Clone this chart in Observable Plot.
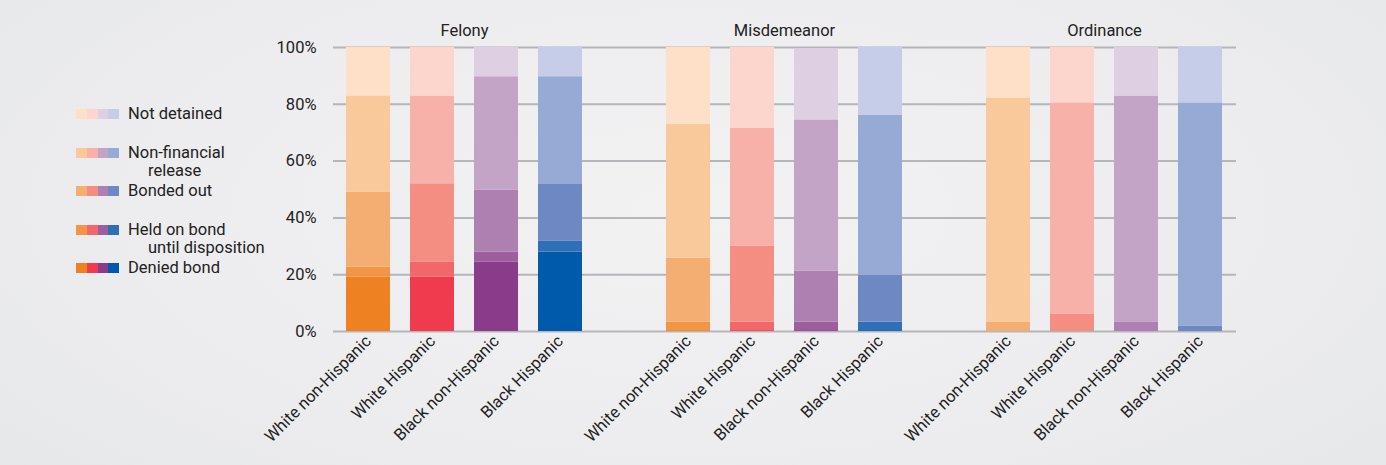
<!DOCTYPE html>
<html>
<head>
<meta charset="utf-8">
<script src="https://cdn.jsdelivr.net/npm/d3@7"></script>
<script src="https://cdn.jsdelivr.net/npm/@observablehq/plot@0.6"></script>
<style>
html,body{margin:0;padding:0;}
body{width:1386px;height:465px;overflow:hidden;
 background:radial-gradient(ellipse 70% 90% at 50% 45%, #f2f2f3 0%, #ededef 55%, #e6e7e9 100%);
 font-family:Roboto,"Liberation Sans",sans-serif;color:#222;}
#wrap{position:relative;width:1386px;height:465px;}
#legend{position:absolute;left:0;top:0;width:300px;height:465px;}
.sw{position:absolute;height:10px;width:43px;display:flex;}
.sw span{flex:1;height:10px;}
.lab{position:absolute;font-size:16.5px;line-height:19px;white-space:nowrap;}
</style>
</head>
<body>
<div id="wrap"><div id="chart"></div><div id="legend"></div></div>
<script>
// ---- data ----
const offenses = ["Felony", "Misdemeanor", "Ordinance"];
const groups = ["White non-Hispanic", "White Hispanic", "Black non-Hispanic", "Black Hispanic"];
const statuses = ["Denied bond", "Held on bond until disposition", "Bonded out", "Non-financial release", "Not detained"];
// values (%) per group, in status order (bottom to top)
const felony = [
  [19.2, 3.5, 26.3, 33.9, 17.1],
  [19.2, 5.3, 27.5, 30.9, 17.1],
  [24.5, 3.5, 21.8, 39.9, 10.3],
  [28.0, 3.9, 20.1, 37.7, 10.3]
];
const misdemeanor = [
  [0.3, 3.0, 22.5, 47.2, 27.0],
  [0.3, 3.0, 26.7, 41.6, 28.4],
  [0.3, 3.0, 17.9, 53.3, 25.1],
  [0.3, 3.0, 16.5, 56.4, 23.8]
];
const ordinance = [
  [0, 0, 3.2, 79.0, 17.8],
  [0, 0, 6.0, 74.5, 19.5],
  [0, 0, 3.2, 79.7, 17.1],
  [0, 0, 1.8, 78.7, 19.5]
];
// colours per group, in status order
const paletteWhiteNonHisp = ["#ee8223", "#f29546", "#f4ae72", "#f9c99b", "#fde0c7"];
const paletteWhiteHisp    = ["#ef3b4d", "#f2676a", "#f48d82", "#f8b1a8", "#fcd5cd"];
const paletteBlackNonHisp = ["#8a3c8a", "#9c5e9c", "#ae80b1", "#c3a4c7", "#ded0e2"];
const paletteBlackHisp    = ["#005aab", "#2f6fb8", "#6e88c4", "#97a9d5", "#c5cde8"];
const legendLines = [["Not detained"], ["Non-financial", "release"], ["Bonded out"], ["Held on bond", "until disposition"], ["Denied bond"]];

// ---- build ----
const palettes = [paletteWhiteNonHisp, paletteWhiteHisp, paletteBlackNonHisp, paletteBlackHisp];
const tables = [felony, misdemeanor, ordinance];
const rows = [];
const keys = [];
const usedKeys = [];
offenses.forEach((o, oi) => {
  if (oi > 0) keys.push("gap" + oi);
  groups.forEach((g, gi) => {
    const key = o + "|" + g;
    keys.push(key); usedKeys.push(key);
    statuses.forEach((s, si) => {
      rows.push({key, offense: o, group: g, status: s, value: tables[oi][gi][si], color: palettes[gi][si]});
    });
  });
});
const titles = offenses.map(o => ({name: o, key: o + "|" + groups[1]}));

const chart = Plot.plot({
  width: 1386, height: 465,
  marginLeft: 333, marginRight: 150, marginTop: 47, marginBottom: 134,
  style: {background: "transparent", fontFamily: "Roboto, 'Liberation Sans', sans-serif", fontSize: "16.5px", color: "#222"},
  x: {type: "band", domain: keys, paddingInner: 0.31, paddingOuter: 0.17, axis: null},
  y: {domain: [0, 100], axis: null},
  marks: [
    Plot.ruleY([0, 20, 40, 60, 80, 100], {stroke: "#b5b6ba", strokeWidth: 2}),
    Plot.barY(rows, {x: "key", y: "value", fill: "color", z: "status"}),
    Plot.axisY({ticks: [0, 20, 40, 60, 80, 100], tickFormat: d => d + "%", tickSize: 0, tickPadding: 17, fontSize: 16.5, fill: "#222", label: null}),
    Plot.axisX({ticks: usedKeys, tickFormat: k => k.split("|")[1], tickRotate: -45, tickSize: 0, tickPadding: 7, fontSize: 16.5, fill: "#222", label: null}),
    Plot.text(titles, {x: "key", text: "name", frameAnchor: "top", dy: -23, dx: 32, fontSize: 16.5, fill: "#222"})
  ]
});
document.getElementById("chart").appendChild(chart);

// ---- legend ----
const legend = document.getElementById("legend");
const legendY = [114, 153, 191, 229.5, 268];
legendLines.forEach((lines, i) => {
  const si = statuses.length - 1 - i;
  const sw = document.createElement("div");
  sw.className = "sw";
  sw.style.left = "76px"; sw.style.top = (legendY[i] - 5) + "px";
  palettes.forEach(p => { const s = document.createElement("span"); s.style.background = p[si]; sw.appendChild(s); });
  legend.appendChild(sw);
  lines.forEach((t, li) => {
    const d = document.createElement("div");
    d.className = "lab";
    d.textContent = t;
    d.style.left = (li === 0 ? 128 : 148) + "px";
    d.style.top = (legendY[i] - 10 + li * 18) + "px";
    legend.appendChild(d);
  });
});
</script>
</body>
</html>
